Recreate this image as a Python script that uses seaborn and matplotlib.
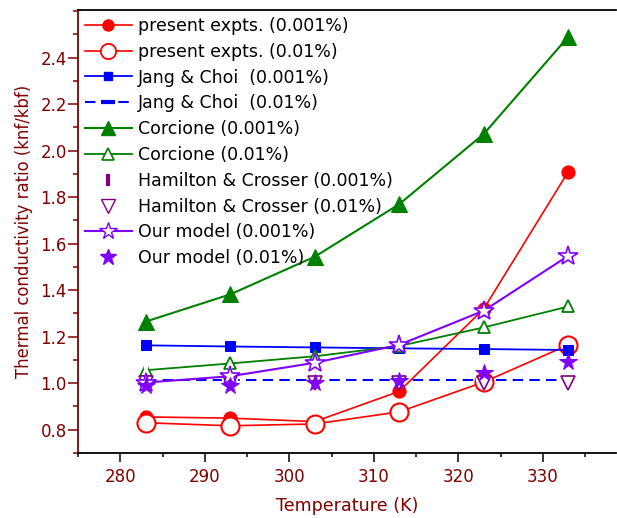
import matplotlib
matplotlib.use("Agg")
import matplotlib.pyplot as plt
from matplotlib.lines import Line2D
from matplotlib.ticker import MultipleLocator, FormatStrFormatter, FixedLocator
import seaborn as sns
import pandas as pd

# ---- data ----
temperature = [283, 293, 303, 313, 323, 333]
expt_0001 = [0.855, 0.850, 0.835, 0.965, 1.320, 1.910]
expt_001 = [0.830, 0.817, 0.825, 0.877, 1.005, 1.165]
jang_0001 = [1.163, 1.158, 1.154, 1.150, 1.147, 1.143]
jang_001 = [1.013, 1.013, 1.013, 1.013, 1.013, 1.013]
corc_0001 = [1.265, 1.382, 1.544, 1.770, 2.072, 2.490]
corc_001 = [1.056, 1.085, 1.116, 1.160, 1.240, 1.330]
hc_0001 = [1.045, 1.045, 1.045, 1.045, 1.045, 1.045]
hc_001 = [1.000, 1.000, 1.000, 1.000, 1.000, 1.000]
model_0001 = [1.003, 1.030, 1.088, 1.165, 1.312, 1.548]
model_001 = [0.990, 0.990, 1.000, 1.008, 1.045, 1.090]

y_ticks = [0.8, 1.0, 1.2, 1.4, 1.6, 1.8, 2.0, 2.2, 2.4]

labels = ["present expts. (0.001%)", "present expts. (0.01%)",
          "Jang & Choi  (0.001%)", "Jang & Choi  (0.01%)",
          "Corcione (0.001%)", "Corcione (0.01%)",
          "Hamilton & Crosser (0.001%)", "Hamilton & Crosser (0.01%)",
          "Our model (0.001%)", "Our model (0.01%)"]

maroon = "#800000"
red, blue, green = "#FF0000", "#0000FF", "#008000"
violet, purple = "#8000FF", "#800080"

plt.rcParams["font.family"] = ["DejaVu Sans"]
fig = plt.figure(figsize=(6.17, 5.18), dpi=100)
ax = fig.add_axes([78 / 617, 1 - 453 / 518, 538.5 / 617, 443 / 518])

df = pd.DataFrame({"T": temperature})

series = [
    (expt_0001, dict(color=red, marker="o", markersize=9.5, mfc=red, mec=red, lw=1.2, ls="-")),
    (expt_001, dict(color=red, marker="o", markersize=13, mfc="white", mec=red, mew=1.5, lw=1.2, ls="-")),
    (jang_0001, dict(color=blue, marker="s", markersize=6.5, mfc=blue, mec=blue, lw=1.3, ls="-")),
    (jang_001, dict(color=blue, marker="_", markersize=12, mew=3, lw=1.5, ls=(0, (5, 3)))),
    (corc_0001, dict(color=green, marker="^", markersize=11.5, mfc=green, mec=green, lw=1.5, ls="-")),
    (corc_001, dict(color=green, marker="^", markersize=9, mfc="white", mec=green, mew=1.3, lw=1.3, ls="-")),
    (hc_0001, dict(color=purple, marker="|", markersize=14, mew=3, ls="none")),
    (hc_001, dict(color=purple, marker="v", markersize=10.5, mfc="white", mec=purple, mew=1.2, ls="none")),
    (model_0001, dict(color=violet, marker="*", markersize=15, mfc="white", mec=violet, mew=1.2, lw=1.5, ls="-")),
    (model_001, dict(color=violet, marker="*", markersize=13, mfc=violet, mec=violet, ls="none")),
]

for vals, st in series:
    d = df.copy()
    d["v"] = vals
    sns.lineplot(data=d, x="T", y="v", ax=ax, estimator=None, sort=False,
                 legend=False, **st)

handles = [
    Line2D([], [], color=red, marker="o", markersize=8, mfc=red, mec=red, lw=1.2),
    Line2D([], [], color=red, marker="o", markersize=11, mfc="white", mec=red, mew=1.3, lw=1.2),
    Line2D([], [], color=blue, marker="s", markersize=5.5, mfc=blue, mec=blue, lw=1.3),
    Line2D([], [], color=blue, marker="_", markersize=10, mew=3, lw=1.5, ls=(0, (5, 3))),
    Line2D([], [], color=green, marker="^", markersize=10, mfc=green, mec=green, lw=1.5),
    Line2D([], [], color=green, marker="^", markersize=8, mfc="white", mec=green, mew=1.2, lw=1.3),
    Line2D([], [], color=purple, marker="|", markersize=8, mew=3, ls="none"),
    Line2D([], [], color=purple, marker="v", markersize=10, mfc="white", mec=purple, mew=1.0, ls="none"),
    Line2D([], [], color=violet, marker="*", markersize=13, mfc="white", mec=violet, mew=1.0, lw=1.5),
    Line2D([], [], color=violet, marker="*", markersize=12, mfc=violet, mec=violet, ls="none"),
]
leg = ax.legend(handles, labels, loc="upper left", bbox_to_anchor=(0.0, 1.0),
                frameon=False, fontsize=12.5, handlelength=2.7, handletextpad=0.35,
                labelspacing=0.45, borderaxespad=0.1, borderpad=0.3)

ax.set_xlim(275, 338.7)
ax.set_ylim(0.7, 2.605)
ax.xaxis.set_major_locator(MultipleLocator(10))
ax.xaxis.set_minor_locator(MultipleLocator(5))
ax.yaxis.set_major_locator(FixedLocator(y_ticks))
ax.yaxis.set_minor_locator(MultipleLocator(0.1))
ax.yaxis.set_major_formatter(FormatStrFormatter("%.1f"))

ax.set_xlabel("Temperature (K)", color=maroon, fontsize=12.6, labelpad=8)
ax.set_ylabel("Thermal conductivity ratio (knf/kbf)", color=maroon, fontsize=11.9, labelpad=5)

ax.spines["right"].set_visible(False)
for s in ["top", "bottom"]:
    ax.spines[s].set_color("black")
    ax.spines[s].set_linewidth(1.3)
ax.spines["left"].set_color(maroon)
ax.spines["left"].set_linewidth(1.3)

ax.tick_params(axis="x", which="major", direction="out", length=6.5, width=1.1,
               color="black", labelcolor=maroon, labelsize=12, pad=4)
ax.tick_params(axis="x", which="minor", direction="out", length=3, width=1.1, color="black")
ax.tick_params(axis="y", which="major", direction="out", length=7, width=1.1,
               color=maroon, labelcolor=maroon, labelsize=12, pad=1)
ax.tick_params(axis="y", which="minor", direction="out", length=3.6, width=1.1, color=maroon)
ax.tick_params(top=False, right=False)

fig.savefig("out.png", dpi=100)
